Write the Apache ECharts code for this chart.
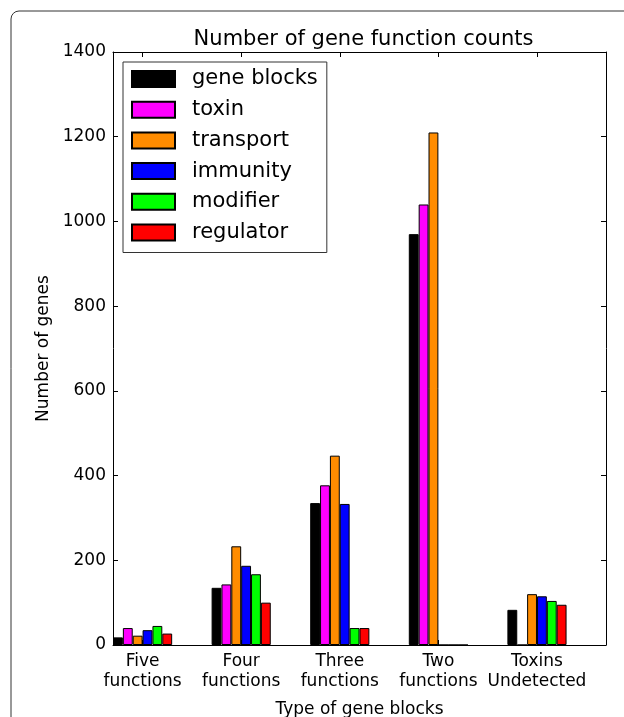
<!DOCTYPE html>
<html>
<head>
<meta charset="utf-8">
<script src="https://cdn.jsdelivr.net/npm/echarts@6/dist/echarts.min.js"></script>
<style>
html,body{margin:0;padding:0;background:#fff;}
#chart{width:624px;height:717px;}
</style>
</head>
<body>
<div id="chart"></div>
<script>
var categories = ['Five\nfunctions', 'Four\nfunctions', 'Three\nfunctions', 'Two\nfunctions', 'Toxins\nUndetected'];
var seriesNames = ['gene blocks', 'toxin', 'transport', 'immunity', 'modifier', 'regulator'];
var seriesColors = ['#000000', '#ff00ff', '#ff8c00', '#0000ff', '#00ff00', '#ff0000'];
var geneBlocks = [18, 135, 335, 970, 83];
var toxin = [40, 143, 377, 1040, 0];
var transport = [22, 233, 447, 1210, 120];
var immunity = [35, 187, 333, 0, 115];
var modifier = [45, 167, 40, 0, 104];
var regulator = [27, 100, 40, 0, 95];
var yTicks = [0, 200, 400, 600, 800, 1000, 1200, 1400];

var allValues = [geneBlocks, toxin, transport, immunity, modifier, regulator];
var FONT = 'DejaVu Sans';

// slots: each group occupies 10 slots of 0.1 unit; bars in slots 0..5
var SLOTS = categories.length * 10;
var slotCats = [];
for (var s = 0; s < SLOTS; s++) slotCats.push(String(s));
// label axis: SLOTS+1 boundary points; labels at group centers (slot boundary 3)
var labelCats = [];
for (var b = 0; b <= SLOTS; b++) {
  var gi = Math.floor(b / 10);
  labelCats.push((b % 10 === 3 && gi < categories.length) ? categories[gi] : '');
}
function isLabel(idx, val) { return val !== ''; }

var series = seriesNames.map(function (name, k) {
  var d = [];
  for (var s = 0; s < SLOTS; s++) d.push('-');
  allValues[k].forEach(function (v, i) { d[i * 10 + k] = v; });
  return {
    name: name,
    type: 'bar',
    xAxisIndex: 0,
    yAxisIndex: 0,
    data: d,
    barWidth: '100%',
    barGap: '-100%',
    itemStyle: { color: seriesColors[k], borderColor: '#000', borderWidth: 1 },
    emphasis: { disabled: true },
    animation: false
  };
});

var axisLineStyle = { color: '#000', width: 1 };
var chart = echarts.init(document.getElementById('chart'));
chart.setOption({
  backgroundColor: '#fff',
  animation: false,
  title: {
    text: 'Number of gene function counts',
    left: 358.5,
    textAlign: 'center',
    top: 24,
    textStyle: { fontFamily: FONT, fontSize: 21, fontWeight: 'normal', color: '#000' }
  },
  graphic: [{
    type: 'rect',
    shape: { x: 11, y: 11, width: 700, height: 800, r: 8 },
    style: { fill: 'none', stroke: '#333', lineWidth: 1 },
    silent: true
  }],
  legend: {
    orient: 'vertical',
    left: 123,
    top: 62,
    itemWidth: 43,
    itemHeight: 16,
    itemGap: 9.7,
    padding: [6.5, 9, 9.5, 8],
    borderColor: '#333',
    borderWidth: 1,
    backgroundColor: '#fff',
    icon: 'rect',
    selectedMode: false,
    textStyle: { fontFamily: FONT, fontSize: 21, color: '#000', padding: [0, 0, 0, 12] },
    data: seriesNames
  },
  grid: { left: 113, top: 52, width: 493, height: 593, containLabel: false, outerBoundsMode: 'none' },
  xAxis: [
    { type: 'category', data: slotCats, show: false, boundaryGap: true },
    {
      type: 'category', data: labelCats, boundaryGap: false, position: 'bottom',
      axisLine: { show: true, lineStyle: axisLineStyle },
      axisTick: { show: true, inside: true, length: 5, interval: isLabel, lineStyle: axisLineStyle },
      axisLabel: { interval: isLabel, fontFamily: FONT, fontSize: 17, color: '#000', lineHeight: 20, margin: 7 },
      name: 'Type of gene blocks', nameLocation: 'middle', nameGap: 56,
      nameTextStyle: { fontFamily: FONT, fontSize: 17, color: '#000' },
      splitLine: { show: false }
    },
    {
      type: 'category', data: labelCats, boundaryGap: false, position: 'top',
      axisLine: { show: true, lineStyle: axisLineStyle },
      axisTick: { show: true, inside: true, length: 5, interval: isLabel, lineStyle: axisLineStyle },
      axisLabel: { show: false },
      splitLine: { show: false }
    }
  ],
  yAxis: [
    {
      type: 'value', min: yTicks[0], max: yTicks[yTicks.length - 1], interval: yTicks[1] - yTicks[0],
      position: 'left',
      axisLine: { show: true, lineStyle: axisLineStyle },
      axisTick: { show: true, inside: true, length: 5, lineStyle: axisLineStyle },
      axisLabel: { fontFamily: FONT, fontSize: 17, color: '#000', margin: 7, formatter: function (v) { return String(v); } },
      splitLine: { show: false },
      name: 'Number of genes', nameLocation: 'middle', nameGap: 49,
      nameTextStyle: { fontFamily: FONT, fontSize: 17, color: '#000' }
    },
    {
      type: 'value', min: yTicks[0], max: yTicks[yTicks.length - 1], interval: yTicks[1] - yTicks[0],
      position: 'right',
      axisLine: { show: true, lineStyle: axisLineStyle },
      axisTick: { show: true, inside: true, length: 5, lineStyle: axisLineStyle },
      axisLabel: { show: false },
      splitLine: { show: false }
    }
  ],
  series: series
});
</script>
</body>
</html>
